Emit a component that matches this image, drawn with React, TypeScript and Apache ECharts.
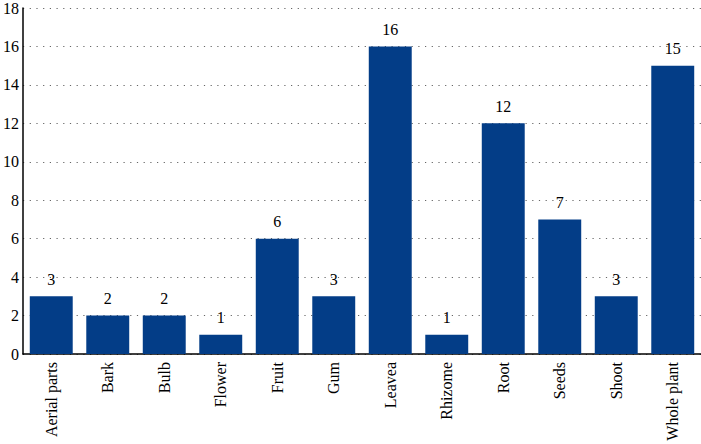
import React, { useEffect, useRef } from "react";
import * as echarts from "echarts";

const categories = ["Aerial parts", "Bark", "Bulb", "Flower", "Fruit", "Gum", "Leavea", "Rhizome", "Root", "Seeds", "Shoot", "Whole plant"];
const values = [3, 2, 2, 1, 6, 3, 16, 1, 12, 7, 3, 15];

export default function App() {
  const ref = useRef<HTMLDivElement>(null);
  useEffect(() => {
    const chart = echarts.init(ref.current!, null, { renderer: "svg" });
    const font = "Liberation Serif";
    chart.setOption({
      animation: false,
      grid: { left: 21, right: 0, top: 6, bottom: 90, containLabel: false },
      xAxis: {
        type: "category",
        data: categories,
        axisLine: { lineStyle: { color: "#000", width: 1.5 } },
        axisTick: { show: false },
        axisLabel: { rotate: 90, color: "#000", fontFamily: font, fontSize: 16, margin: 8, interval: 0 },
      },
      yAxis: {
        type: "value",
        min: 0,
        max: 18,
        interval: 2,
        axisLine: { show: true, lineStyle: { color: "#000", width: 1.5 } },
        axisTick: { show: false },
        axisLabel: { color: "#000", fontFamily: font, fontSize: 16, margin: 4 },
        splitLine: { lineStyle: { color: "#666", type: [1.2, 5.5], width: 1.2 } },
      },
      series: [
        {
          type: "bar",
          data: values,
          barCategoryGap: "24%",
          itemStyle: { color: "#033d87" },
          label: { show: true, position: "top", color: "#000", fontFamily: font, fontSize: 16, distance: 9 },
        },
      ],
    });
    return () => chart.dispose();
  }, []);
  return <div ref={ref} style={{ width: 701, height: 444, position: "absolute", left: 0, top: 0 }} />;
}
